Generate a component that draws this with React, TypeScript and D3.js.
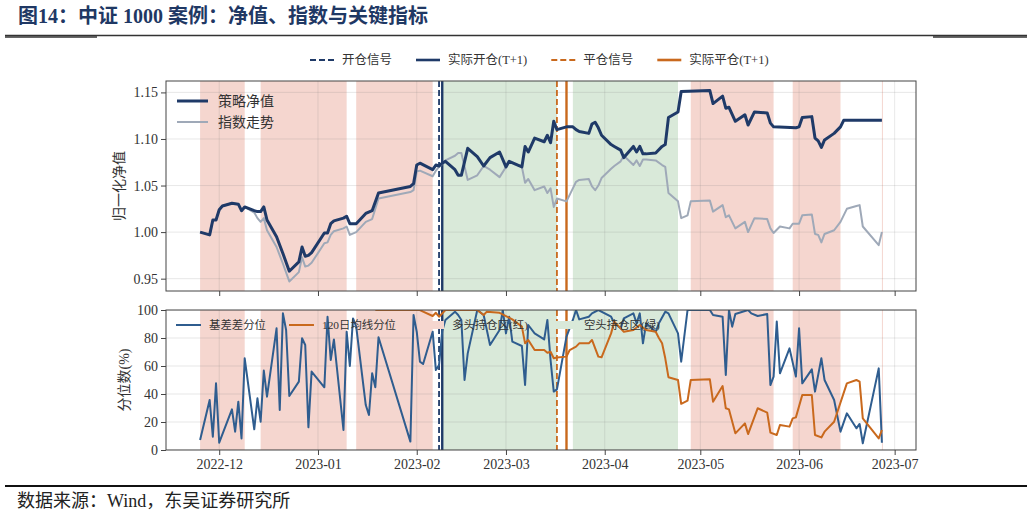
import React, { useEffect, useRef } from 'react';
import * as d3 from 'd3';

type Point = [string, number];

// normalised net value of the strategy
const strategyNav: Point[] = [
  ['2022-11-25', 1.000], ['2022-11-28', 0.997], ['2022-11-29', 1.013], ['2022-11-30', 1.013],
  ['2022-12-01', 1.024], ['2022-12-02', 1.028], ['2022-12-05', 1.031], ['2022-12-07', 1.030],
  ['2022-12-08', 1.023], ['2022-12-09', 1.027], ['2022-12-12', 1.023], ['2022-12-13', 1.022],
  ['2022-12-14', 1.022], ['2022-12-15', 1.027], ['2022-12-16', 1.013], ['2022-12-19', 0.995],
  ['2022-12-21', 0.977], ['2022-12-23', 0.958], ['2022-12-26', 0.968], ['2022-12-27', 0.984],
  ['2022-12-28', 0.974], ['2022-12-29', 0.975], ['2022-12-30', 0.978], ['2023-01-03', 0.999],
  ['2023-01-04', 0.999], ['2023-01-05', 1.009], ['2023-01-06', 1.012], ['2023-01-09', 1.015],
  ['2023-01-10', 1.017], ['2023-01-11', 1.009], ['2023-01-13', 1.009], ['2023-01-16', 1.020],
  ['2023-01-18', 1.023], ['2023-01-20', 1.042], ['2023-01-30', 1.049], ['2023-01-31', 1.052],
  ['2023-02-01', 1.072], ['2023-02-02', 1.074], ['2023-02-06', 1.067], ['2023-02-07', 1.072],
  ['2023-02-08', 1.071], ['2023-02-09', 1.074], ['2023-02-10', 1.076], ['2023-02-13', 1.067],
  ['2023-02-14', 1.061], ['2023-02-15', 1.061], ['2023-02-17', 1.090], ['2023-02-20', 1.081],
  ['2023-02-22', 1.071], ['2023-02-24', 1.080], ['2023-02-27', 1.086], ['2023-03-01', 1.070],
  ['2023-03-02', 1.076], ['2023-03-06', 1.070], ['2023-03-07', 1.092], ['2023-03-08', 1.086],
  ['2023-03-10', 1.101], ['2023-03-13', 1.097], ['2023-03-14', 1.104], ['2023-03-15', 1.096],
  ['2023-03-16', 1.119], ['2023-03-17', 1.110], ['2023-03-20', 1.113], ['2023-03-22', 1.113],
  ['2023-03-23', 1.110], ['2023-03-24', 1.108], ['2023-03-27', 1.106], ['2023-03-28', 1.116],
  ['2023-03-29', 1.118], ['2023-03-30', 1.112], ['2023-03-31', 1.104], ['2023-04-03', 1.094],
  ['2023-04-04', 1.092], ['2023-04-06', 1.088], ['2023-04-07', 1.080], ['2023-04-10', 1.092],
  ['2023-04-11', 1.086], ['2023-04-12', 1.092], ['2023-04-13', 1.084], ['2023-04-14', 1.084],
  ['2023-04-17', 1.085], ['2023-04-19', 1.092], ['2023-04-20', 1.094], ['2023-04-21', 1.123],
  ['2023-04-24', 1.129], ['2023-04-25', 1.151], ['2023-05-04', 1.152], ['2023-05-05', 1.138],
  ['2023-05-08', 1.146], ['2023-05-09', 1.133], ['2023-05-10', 1.134], ['2023-05-12', 1.119],
  ['2023-05-15', 1.126], ['2023-05-16', 1.115], ['2023-05-18', 1.129], ['2023-05-22', 1.128],
  ['2023-05-23', 1.117], ['2023-05-24', 1.113], ['2023-05-31', 1.112], ['2023-06-01', 1.113],
  ['2023-06-02', 1.123], ['2023-06-05', 1.124], ['2023-06-06', 1.101], ['2023-06-07', 1.098],
  ['2023-06-08', 1.091], ['2023-06-09', 1.099], ['2023-06-12', 1.106], ['2023-06-14', 1.113],
  ['2023-06-15', 1.120], ['2023-06-27', 1.120],
];

// CSI 1000 index, normalised to the first day
const indexNav: Point[] = [
  ['2022-11-25', 1.000], ['2022-11-28', 0.997], ['2022-11-29', 1.013], ['2022-11-30', 1.013],
  ['2022-12-01', 1.024], ['2022-12-02', 1.028], ['2022-12-05', 1.031], ['2022-12-07', 1.030],
  ['2022-12-08', 1.023], ['2022-12-09', 1.027], ['2022-12-12', 1.021], ['2022-12-13', 1.015],
  ['2022-12-14', 1.011], ['2022-12-15', 1.015], ['2022-12-16', 1.002], ['2022-12-19', 0.984],
  ['2022-12-21', 0.966], ['2022-12-23', 0.947], ['2022-12-26', 0.957], ['2022-12-27', 0.973],
  ['2022-12-28', 0.963], ['2022-12-29', 0.964], ['2022-12-30', 0.967], ['2023-01-03', 0.988],
  ['2023-01-04', 0.989], ['2023-01-05', 0.997], ['2023-01-06', 1.001], ['2023-01-09', 1.004],
  ['2023-01-10', 1.006], ['2023-01-11', 0.997], ['2023-01-13', 1.000], ['2023-01-16', 1.011],
  ['2023-01-18', 1.014], ['2023-01-20', 1.036], ['2023-01-30', 1.043], ['2023-01-31', 1.045],
  ['2023-02-01', 1.065], ['2023-02-02', 1.066], ['2023-02-06', 1.060], ['2023-02-07', 1.066],
  ['2023-02-08', 1.070], ['2023-02-09', 1.073], ['2023-02-10', 1.077], ['2023-02-13', 1.082],
  ['2023-02-14', 1.085], ['2023-02-15', 1.085], ['2023-02-17', 1.056], ['2023-02-20', 1.061],
  ['2023-02-22', 1.071], ['2023-02-24', 1.067], ['2023-02-27', 1.059], ['2023-03-01', 1.070],
  ['2023-03-02', 1.076], ['2023-03-06', 1.070], ['2023-03-07', 1.053], ['2023-03-08', 1.057],
  ['2023-03-10', 1.045], ['2023-03-13', 1.049], ['2023-03-14', 1.042], ['2023-03-15', 1.047],
  ['2023-03-16', 1.027], ['2023-03-17', 1.036], ['2023-03-20', 1.033], ['2023-03-22', 1.047],
  ['2023-03-23', 1.054], ['2023-03-24', 1.056], ['2023-03-27', 1.057], ['2023-03-28', 1.049],
  ['2023-03-29', 1.045], ['2023-03-30', 1.050], ['2023-03-31', 1.058], ['2023-04-03', 1.068],
  ['2023-04-04', 1.071], ['2023-04-06', 1.076], ['2023-04-07', 1.082], ['2023-04-10', 1.072],
  ['2023-04-11', 1.077], ['2023-04-12', 1.071], ['2023-04-13', 1.078], ['2023-04-14', 1.078],
  ['2023-04-17', 1.077], ['2023-04-19', 1.072], ['2023-04-20', 1.070], ['2023-04-21', 1.042],
  ['2023-04-24', 1.033], ['2023-04-25', 1.015], ['2023-04-27', 1.018], ['2023-04-28', 1.033],
  ['2023-05-04', 1.034], ['2023-05-05', 1.022], ['2023-05-08', 1.029], ['2023-05-09', 1.016],
  ['2023-05-10', 1.018], ['2023-05-12', 1.004], ['2023-05-15', 1.011], ['2023-05-16', 1.000],
  ['2023-05-18', 1.015], ['2023-05-22', 1.014], ['2023-05-23', 1.004], ['2023-05-24', 0.999],
  ['2023-05-26', 1.006], ['2023-05-29', 1.004], ['2023-05-30', 1.009], ['2023-06-01', 1.009],
  ['2023-06-02', 1.018], ['2023-06-05', 1.019], ['2023-06-06', 0.998], ['2023-06-07', 0.997],
  ['2023-06-08', 0.989], ['2023-06-09', 0.998], ['2023-06-12', 1.002], ['2023-06-14', 1.011],
  ['2023-06-16', 1.025], ['2023-06-19', 1.028], ['2023-06-20', 1.029], ['2023-06-21', 1.006],
  ['2023-06-26', 0.986], ['2023-06-27', 1.000],
];

// 基差差分位 (%)
const basisPct: Point[] = [
  ['2022-11-25', 7.1], ['2022-11-28', 35.7], ['2022-11-29', 9.5], ['2022-11-30', 47.6],
  ['2022-12-01', 5.2], ['2022-12-05', 29.0], ['2022-12-06', 13.1], ['2022-12-07', 34.5],
  ['2022-12-08', 8.3], ['2022-12-09', 65.5], ['2022-12-12', 14.8], ['2022-12-13', 36.9],
  ['2022-12-14', 20.2], ['2022-12-15', 56.7], ['2022-12-16', 38.1], ['2022-12-19', 86.9],
  ['2022-12-20', 28.6], ['2022-12-21', 97.6], ['2022-12-22', 85.7], ['2022-12-23', 38.6],
  ['2022-12-26', 48.8], ['2022-12-27', 79.8], ['2022-12-28', 75.0], ['2022-12-29', 16.2],
  ['2022-12-30', 56.0], ['2023-01-03', 44.8], ['2023-01-04', 95.2], ['2023-01-05', 64.3],
  ['2023-01-06', 79.0], ['2023-01-09', 14.3], ['2023-01-10', 84.5], ['2023-01-11', 60.0],
  ['2023-01-12', 94.0], ['2023-01-13', 88.1], ['2023-01-16', 32.1], ['2023-01-17', 25.0],
  ['2023-01-18', 54.8], ['2023-01-19', 44.8], ['2023-01-20', 80.5], ['2023-01-30', 6.0],
  ['2023-01-31', 96.4], ['2023-02-01', 84.5], ['2023-02-02', 63.1], ['2023-02-03', 61.4],
  ['2023-02-06', 84.5], ['2023-02-07', 57.1], ['2023-02-08', 60.7], ['2023-02-09', 85.0],
  ['2023-02-10', 92.9], ['2023-02-13', 98.8], ['2023-02-14', 96.4], ['2023-02-15', 92.9],
  ['2023-02-16', 50.0], ['2023-02-17', 69.0], ['2023-02-20', 100], ['2023-02-22', 96.4],
  ['2023-02-24', 75.0], ['2023-02-27', 85.7], ['2023-02-28', 100], ['2023-03-01', 83.3],
  ['2023-03-02', 95.2], ['2023-03-03', 77.4], ['2023-03-06', 74.3], ['2023-03-07', 46.4],
  ['2023-03-08', 89.3], ['2023-03-10', 83.3], ['2023-03-13', 79.0], ['2023-03-14', 92.9],
  ['2023-03-15', 64.3], ['2023-03-16', 41.7], ['2023-03-17', 43.3], ['2023-03-20', 81.0],
  ['2023-03-22', 92.9], ['2023-03-23', 100], ['2023-03-24', 93.3], ['2023-03-27', 95.2],
  ['2023-03-28', 97.6], ['2023-03-30', 100], ['2023-04-03', 95.2], ['2023-04-04', 90.5],
  ['2023-04-06', 86.9], ['2023-04-07', 94.0], ['2023-04-10', 97.6], ['2023-04-11', 90.5],
  ['2023-04-12', 97.6], ['2023-04-13', 76.2], ['2023-04-14', 90.5], ['2023-04-17', 84.5],
  ['2023-04-18', 90.5], ['2023-04-20', 98.8], ['2023-04-21', 97.6], ['2023-04-24', 83.3],
  ['2023-04-25', 63.1], ['2023-04-27', 100], ['2023-05-04', 100], ['2023-05-05', 96.4],
  ['2023-05-08', 95.2], ['2023-05-09', 53.6], ['2023-05-10', 100], ['2023-05-11', 88.1],
  ['2023-05-12', 97.1], ['2023-05-16', 100], ['2023-05-17', 97.6], ['2023-05-19', 95.7],
  ['2023-05-22', 97.1], ['2023-05-23', 46.4], ['2023-05-24', 52.4], ['2023-05-25', 91.7],
  ['2023-05-26', 54.8], ['2023-05-29', 72.6], ['2023-05-31', 52.4], ['2023-06-01', 86.9],
  ['2023-06-02', 47.6], ['2023-06-05', 57.6], ['2023-06-06', 41.7], ['2023-06-08', 65.5],
  ['2023-06-09', 50.0], ['2023-06-12', 35.7], ['2023-06-14', 13.1], ['2023-06-16', 26.2],
  ['2023-06-19', 15.5], ['2023-06-20', 18.6], ['2023-06-21', 4.8], ['2023-06-26', 58.3],
  ['2023-06-27', 5.2],
];

// 120日均线分位 (%)
const maPct: Point[] = [
  ['2023-01-19', 100], ['2023-02-02', 100], ['2023-02-03', 98.8], ['2023-02-06', 95.7],
  ['2023-02-07', 98.0], ['2023-02-08', 95.2], ['2023-02-10', 100], ['2023-02-20', 100],
  ['2023-02-22', 96.4], ['2023-02-23', 98.8], ['2023-02-27', 98.0], ['2023-03-01', 95.7],
  ['2023-03-03', 93.3], ['2023-03-06', 88.1], ['2023-03-07', 76.2], ['2023-03-08', 78.6],
  ['2023-03-10', 71.4], ['2023-03-13', 71.4], ['2023-03-14', 69.5], ['2023-03-15', 70.2],
  ['2023-03-16', 65.5], ['2023-03-17', 66.0], ['2023-03-20', 66.7], ['2023-03-21', 71.4],
  ['2023-03-23', 73.8], ['2023-03-24', 76.2], ['2023-03-27', 76.2], ['2023-03-28', 78.6],
  ['2023-03-30', 66.7], ['2023-03-31', 66.2], ['2023-04-03', 83.3], ['2023-04-04', 91.7],
  ['2023-04-06', 86.9], ['2023-04-07', 84.5], ['2023-04-10', 85.7], ['2023-04-12', 89.3],
  ['2023-04-14', 85.7], ['2023-04-17', 84.5], ['2023-04-18', 80.0], ['2023-04-19', 76.2],
  ['2023-04-20', 65.5], ['2023-04-21', 52.0], ['2023-04-24', 50.0], ['2023-04-25', 33.0],
  ['2023-04-27', 35.2], ['2023-04-28', 50.0], ['2023-05-04', 50.5], ['2023-05-05', 34.5],
  ['2023-05-08', 45.7], ['2023-05-09', 29.8], ['2023-05-10', 29.0], ['2023-05-12', 11.9],
  ['2023-05-15', 19.0], ['2023-05-16', 11.4], ['2023-05-19', 29.8], ['2023-05-22', 26.7],
  ['2023-05-23', 12.4], ['2023-05-25', 10.7], ['2023-05-26', 17.9], ['2023-05-29', 16.7],
  ['2023-05-30', 22.6], ['2023-05-31', 23.3], ['2023-06-02', 39.3], ['2023-06-05', 39.3],
  ['2023-06-06', 10.7], ['2023-06-08', 9.0], ['2023-06-09', 13.1], ['2023-06-12', 20.2],
  ['2023-06-16', 47.6], ['2023-06-19', 50.0], ['2023-06-20', 48.8], ['2023-06-21', 22.6],
  ['2023-06-26', 8.3], ['2023-06-27', 14.3],
];

// holding periods: long (red) and short (green)
const longZones: [string, string][] = [
  ['2022-11-25', '2022-12-09'], ['2022-12-14', '2023-01-10'], ['2023-01-13', '2023-02-06'],
  ['2023-04-28', '2023-05-24'], ['2023-05-30', '2023-06-14'], ['2023-06-27', '2023-06-27'],
];
const shortZones: [string, string][] = [
  ['2023-02-09', '2023-03-17'], ['2023-03-22', '2023-04-24'],
];

const openSignal = '2023-02-08';
const openActual = '2023-02-09';
const closeSignal = '2023-03-17';
const closeActual = '2023-03-20';

const navTicks = [0.95, 1.0, 1.05, 1.1, 1.15];
const pctTicks = [0, 20, 40, 60, 80, 100];
const monthTicks = ['2022-12-01', '2023-01-01', '2023-02-01', '2023-03-01', '2023-04-01',
  '2023-05-01', '2023-06-01', '2023-07-01'];

const signalLabels = ['开仓信号', '实际开仓(T+1)', '平仓信号', '实际平仓(T+1)'];
const navLabels = ['策略净值', '指数走势'];
const pctLabels = ['基差差分位', '120日均线分位', '多头持仓区(红)', '空头持仓区(绿)'];

const NAVY = '#1f3a68';
const GREY = '#9fa9b8';
const BLUE = '#2f5d8f';
const ORANGE = '#c9691d';
const RED_ZONE = '#f5d6cf';
const GREEN_ZONE = '#d9e9d9';
const SERIF = '"Liberation Serif", "Noto Sans CJK SC", serif';
const CJK = '"Liberation Serif", "Noto Sans CJK SC", sans-serif';

const parse = (s: string) => d3.timeParse('%Y-%m-%d')(s) as Date;

const App: React.FC = () => {
  const svgRef = useRef<SVGSVGElement>(null);

  useEffect(() => {
    if (!svgRef.current) return;
    const svg = d3.select(svgRef.current);
    svg.selectAll('*').remove();

    const left = 166, right = 916;
    const navTop = 81, navBottom = 291;
    const pctTop = 310, pctBottom = 450;

    const t0 = parse(strategyNav[0][0]).getTime();
    const t1 = parse(strategyNav[strategyNav.length - 1][0]).getTime();
    const xPad = (t1 - t0) * 0.05;
    const x = d3.scaleTime()
      .domain([new Date(t0 - xPad), new Date(t1 + xPad)])
      .range([left, right]);

    const navVals = [...strategyNav, ...indexNav].map(d => d[1]);
    const [nMin, nMax] = d3.extent(navVals) as [number, number];
    const yPad = (nMax - nMin) * 0.05;
    const yNav = d3.scaleLinear().domain([nMin - yPad, nMax + yPad]).range([navBottom, navTop]);
    const yPct = d3.scaleLinear().domain([0, 100]).range([pctBottom, pctTop]);

    // header
    svg.append('text')
      .attr('x', 18).attr('y', 23)
      .text('图14：中证 1000 案例：净值、指数与关键指标')
      .style('font-family', CJK).style('font-size', '20px').style('font-weight', 'bold')
      .style('fill', '#1f3864');
    svg.append('line').attr('x1', 5).attr('x2', 1027).attr('y1', 35.5).attr('y2', 35.5)
      .attr('stroke', '#333').attr('stroke-width', 1.5);
    svg.append('line').attr('x1', 5).attr('x2', 97).attr('y1', 37).attr('y2', 37)
      .attr('stroke', '#333').attr('stroke-width', 1.5);
    svg.append('line').attr('x1', 933).attr('x2', 1027).attr('y1', 37).attr('y2', 37)
      .attr('stroke', '#333').attr('stroke-width', 1.5);

    // footer
    svg.append('line').attr('x1', 5).attr('x2', 1027).attr('y1', 486).attr('y2', 486)
      .attr('stroke', '#111').attr('stroke-width', 2);
    svg.append('text')
      .attr('x', 17).attr('y', 507)
      .text('数据来源：Wind，东吴证券研究所')
      .style('font-family', CJK).style('font-size', '18px').style('fill', '#222');

    const drawPanel = (
      id: string,
      top: number,
      bottom: number,
      y: d3.ScaleLinear<number, number>,
      ticks: number[],
      fmt: (v: number) => string,
      series: { data: Point[]; color: string; width: number }[],
      showDates: boolean,
    ) => {
      svg.append('clipPath').attr('id', id)
        .append('rect').attr('x', left).attr('y', top)
        .attr('width', right - left).attr('height', bottom - top);

      const g = svg.append('g').attr('clip-path', `url(#${id})`);

      const zone = (zones: [string, string][], fill: string) => {
        g.selectAll(null).data(zones).enter().append('rect')
          .attr('x', d => x(parse(d[0])))
          .attr('y', top)
          .attr('width', d => Math.max(1, x(parse(d[1])) - x(parse(d[0]))))
          .attr('height', bottom - top)
          .attr('fill', fill);
      };
      zone(longZones, RED_ZONE);
      zone(shortZones, GREEN_ZONE);

      // grid
      g.selectAll(null).data(monthTicks).enter().append('line')
        .attr('x1', d => x(parse(d))).attr('x2', d => x(parse(d)))
        .attr('y1', top).attr('y2', bottom)
        .attr('stroke', 'rgba(120,120,120,0.22)').attr('stroke-width', 0.8);
      g.selectAll(null).data(ticks).enter().append('line')
        .attr('x1', left).attr('x2', right)
        .attr('y1', d => y(d)).attr('y2', d => y(d))
        .attr('stroke', 'rgba(120,120,120,0.22)').attr('stroke-width', 0.8);

      // signal markers
      const vline = (date: string, color: string, dashed: boolean, w: number) => {
        g.append('line')
          .attr('x1', x(parse(date))).attr('x2', x(parse(date)))
          .attr('y1', top).attr('y2', bottom)
          .attr('stroke', color).attr('stroke-width', w)
          .attr('stroke-dasharray', dashed ? '6,3' : null);
      };
      vline(openSignal, NAVY, true, 1.8);
      vline(openActual, NAVY, false, 2.4);
      vline(closeSignal, ORANGE, true, 1.8);
      vline(closeActual, ORANGE, false, 2.4);

      const line = d3.line<Point>()
        .x(d => x(parse(d[0])))
        .y(d => y(d[1]));
      series.forEach(s => {
        g.append('path').datum(s.data)
          .attr('d', line)
          .attr('fill', 'none')
          .attr('stroke', s.color)
          .attr('stroke-width', s.width)
          .attr('stroke-linejoin', 'round');
      });

      svg.append('rect')
        .attr('x', left).attr('y', top)
        .attr('width', right - left).attr('height', bottom - top)
        .attr('fill', 'none').attr('stroke', '#444').attr('stroke-width', 1);

      const yAxis = svg.append('g')
        .attr('transform', `translate(${left},0)`)
        .call(d3.axisLeft(y).tickValues(ticks).tickFormat(d => fmt(+d)).tickSize(5).tickPadding(3));
      const xAxis = svg.append('g')
        .attr('transform', `translate(0,${bottom})`)
        .call(d3.axisBottom(x).tickValues(monthTicks.map(parse))
          .tickFormat(d => (showDates ? d3.timeFormat('%Y-%m')(d as Date) : ''))
          .tickSize(5).tickPadding(4));
      [yAxis, xAxis].forEach(a => {
        a.select('.domain').remove();
        a.selectAll('.tick line').attr('stroke', '#444');
        a.selectAll('text')
          .style('font-family', SERIF).style('font-size', '14px').style('fill', '#333');
      });
    };

    drawPanel('nav-clip', navTop, navBottom, yNav, navTicks, d3.format('.2f'), [
      { data: indexNav, color: GREY, width: 2 },
      { data: strategyNav, color: NAVY, width: 3 },
    ], false);

    drawPanel('pct-clip', pctTop, pctBottom, yPct, pctTicks, d3.format('d'), [
      { data: basisPct, color: BLUE, width: 2 },
      { data: maPct, color: ORANGE, width: 2 },
    ], true);

    // axis titles
    svg.append('text')
      .attr('transform', `translate(119,${(navTop + navBottom) / 2}) rotate(-90)`)
      .attr('text-anchor', 'middle').attr('dominant-baseline', 'central')
      .text('归一化净值')
      .style('font-family', CJK).style('font-size', '14px').style('fill', '#333');
    svg.append('text')
      .attr('transform', `translate(124,${(pctTop + pctBottom) / 2}) rotate(-90)`)
      .attr('text-anchor', 'middle').attr('dominant-baseline', 'central')
      .text('分位数(%)')
      .style('font-family', CJK).style('font-size', '14px').style('fill', '#333');

    // legend row helper: handles are drawn by callback, labels are measured to place the next item
    const legendRow = (
      startX: number, cy: number, fontSize: number, handleLen: number, itemGap: number,
      labels: string[], handle: (i: number, x0: number, x1: number) => void,
    ) => {
      let cx = startX;
      labels.forEach((label, i) => {
        handle(i, cx, cx + handleLen);
        const t = svg.append('text')
          .attr('x', cx + handleLen + 8).attr('y', cy)
          .attr('dominant-baseline', 'central')
          .text(label)
          .style('font-family', CJK).style('font-size', `${fontSize}px`).style('fill', '#333');
        const w = (t.node() as SVGTextElement).getComputedTextLength();
        cx = cx + handleLen + 8 + w + itemGap;
      });
    };

    // signal legend across the top
    const sigStyle = [
      { color: NAVY, dashed: true }, { color: NAVY, dashed: false },
      { color: ORANGE, dashed: true }, { color: ORANGE, dashed: false },
    ];
    legendRow(310, 60, 12.5, 24, 24, signalLabels, (i, x0, x1) => {
      svg.append('line').attr('x1', x0).attr('x2', x1).attr('y1', 60).attr('y2', 60)
        .attr('stroke', sigStyle[i].color)
        .attr('stroke-width', sigStyle[i].dashed ? 2 : 2.6)
        .attr('stroke-dasharray', sigStyle[i].dashed ? '6,3' : null);
    });

    // net value legend
    const navStyle = [{ color: NAVY, w: 3 }, { color: GREY, w: 2 }];
    navLabels.forEach((label, i) => {
      const cy = 101 + i * 21;
      svg.append('line').attr('x1', 177).attr('x2', 208).attr('y1', cy).attr('y2', cy)
        .attr('stroke', navStyle[i].color).attr('stroke-width', navStyle[i].w);
      svg.append('text').attr('x', 218).attr('y', cy).attr('dominant-baseline', 'central')
        .text(label)
        .style('font-family', CJK).style('font-size', '14px').style('fill', '#333');
    });

    // percentile legend
    legendRow(176, 325, 11.4, 25, 23, pctLabels, (i, x0, x1) => {
      if (i < 2) {
        svg.append('line').attr('x1', x0).attr('x2', x1).attr('y1', 325).attr('y2', 325)
          .attr('stroke', i === 0 ? BLUE : ORANGE).attr('stroke-width', 2);
      } else {
        svg.append('rect').attr('x', x0).attr('y', 321).attr('width', x1 - x0).attr('height', 8)
          .attr('fill', i === 2 ? RED_ZONE : GREEN_ZONE);
      }
    });
  }, []);

  return (
    <div style={{ position: 'absolute', left: 0, top: 0, width: 1032, height: 516, background: '#fff' }}>
      <svg ref={svgRef} width={1032} height={516}></svg>
    </div>
  );
};

export default App;
